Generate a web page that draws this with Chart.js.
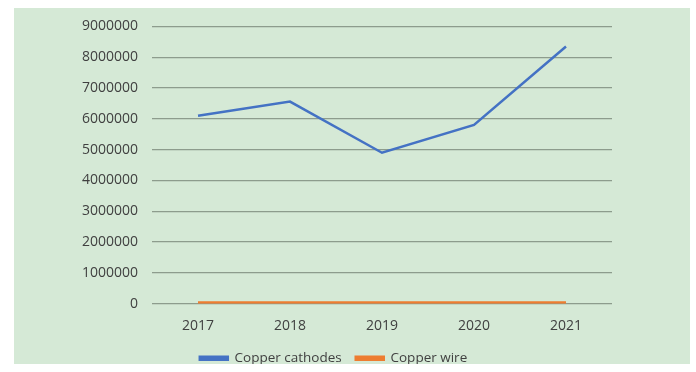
<!DOCTYPE html>
<html>
<head>
<meta charset="utf-8">
<script src="https://cdn.jsdelivr.net/npm/chart.js@4"></script>
<style>
  html, body { margin: 0; padding: 0; background: #fff; }
  #chart-bg {
    position: absolute;
    left: 14px; top: 8px;
    width: 676px; height: 356px;
    background: #d5e9d6;
  }
  #chart-wrap {
    position: absolute;
    left: 14px; top: 4px;
    width: 676px; height: 360px;
  }
</style>
</head>
<body>
<div id="chart-bg"></div>
<div id="chart-wrap"><canvas id="copper-chart-id"></canvas></div>
<script>
// chart data
const years = ['2017', '2018', '2019', '2020', '2021'];
const copperCathodes = [6100000, 6560000, 4900000, 5800000, 8350000];
const copperWire = [40000, 40000, 35000, 35000, 40000];
const yTicks = [0, 1000000, 2000000, 3000000, 4000000, 5000000, 6000000, 7000000, 8000000, 9000000];

const copperCtx = document.getElementById('copper-chart-id');
if (copperCtx) {
  new Chart(copperCtx, {
    type: 'line',
    data: {
      labels: years,
      datasets: [
        {
          label: 'Copper cathodes',
          data: copperCathodes,
          borderColor: '#4472c4',
          backgroundColor: '#4472c4',
          borderWidth: 2.5,
          pointRadius: 0,
          tension: 0,
          fill: false
        },
        {
          label: 'Copper wire',
          data: copperWire,
          borderColor: '#ed7d31',
          backgroundColor: '#ed7d31',
          borderWidth: 2.5,
          pointRadius: 0,
          tension: 0,
          fill: false
        }
      ]
    },
    options: {
      responsive: true,
      maintainAspectRatio: false,
      animation: false,
      layout: { padding: { left: 41, right: 78, top: 5, bottom: -11 } },
      plugins: {
        legend: {
          display: true,
          position: 'bottom',
          labels: {
            color: '#404040',
            boxWidth: 28,
            boxHeight: 3,
            padding: 14,
            font: { family: 'Open Sans', size: 13.5 }
          }
        },
        tooltip: { enabled: false }
      },
      scales: {
        x: {
          offset: true,
          afterFit: (scale) => { scale.height = scale.height - 3; },
          grid: { display: false },
          border: { display: false },
          ticks: {
            color: '#404040',
            padding: 6,
            font: { family: 'Open Sans', size: 14 }
          }
        },
        y: {
          min: 0,
          max: 9000000,
          afterFit: (scale) => { scale.width = 97; },
          afterBuildTicks: (scale) => { scale.ticks = yTicks.map(v => ({ value: v })); },
          border: { display: false },
          grid: { color: '#8d9c8d', lineWidth: 1.3, drawTicks: false },
          ticks: {
            color: '#404040',
            padding: 14,
            font: { family: 'Open Sans', size: 14 },
            callback: (value) => String(value)
          }
        }
      }
    }
  });
}
</script>
</body>
</html>
